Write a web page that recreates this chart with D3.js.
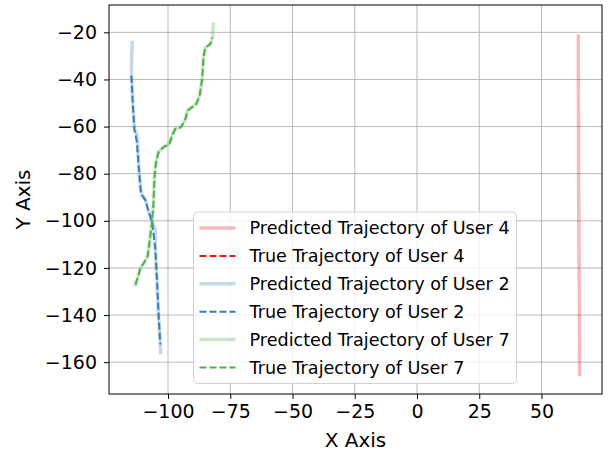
<!DOCTYPE html>
<html>
<head>
<meta charset="utf-8">
<script src="https://cdn.jsdelivr.net/npm/d3@7"></script>
<style>
  body { margin: 0; background: #fff; }
  svg { font-family: "DejaVu Sans", sans-serif; }
  .grid line { stroke: #b0b0b0; stroke-width: 0.9; }
  .axis text { font-size: 19px; fill: #000; font-family: "DejaVu Sans", sans-serif; }
  .axis path, .axis line { stroke: #000; }
</style>
</head>
<body>
<div id="chart"></div>
<script>
// trajectories, [x, y]
var predUser4 = [[64.8,-20.8],[64.8,-40],[64.9,-60],[64.9,-80],[65.0,-100],[65.1,-120],[65.2,-140],[65.3,-166]];
var trueUser4 = [];
var predUser2 = [[-114.3,-23.5],[-114.6,-30],[-114.7,-38],[-114.1,-51],[-113.5,-61],[-112.3,-64],[-112.2,-68],
  [-111.7,-78],[-110.9,-87.5],[-110.4,-89],[-109.1,-91],[-107.8,-96],[-106.4,-100.5],[-105.1,-103.6],
  [-105.1,-112],[-104.4,-126],[-103.8,-140],[-103.1,-152.5],[-102.9,-156.7]];
var trueUser2 = [[-114.7,-38.4],[-114.1,-51.1],[-113.5,-61],[-112.5,-66.6],[-111.7,-77.9],[-110.9,-87.7],
  [-110.5,-89.1],[-109.1,-91.2],[-107.8,-96.2],[-106.4,-100.4],[-105.1,-111.7],[-104.4,-125.7],
  [-103.8,-139.8],[-103.1,-152.5]];
var predUser7 = [[-113.3,-128],[-111.8,-122.9],[-111.1,-120.1],[-109.8,-118],[-108.2,-115.2],[-107.4,-108.9],
  [-106.4,-100.4],[-105.8,-92],[-105.5,-82.1],[-104.8,-75.1],[-103.8,-70.8],[-101.8,-68.7],[-99.4,-67.3],
  [-98.4,-63.8],[-97.1,-61],[-94.8,-60.3],[-93,-56.8],[-92.1,-53.2],[-90.4,-51.8],[-88.6,-50.4],
  [-87.3,-46.9],[-86.3,-39.9],[-85.7,-30],[-85,-26.5],[-83,-25],[-82.1,-22],[-81.7,-15.9]];
var trueUser7 = [[-113.1,-127.1],[-111.8,-122.9],[-111.1,-120.1],[-109.8,-118],[-108.2,-115.2],[-107.4,-108.9],
  [-106.4,-100.4],[-105.8,-92],[-105.5,-82.1],[-104.8,-75.1],[-103.8,-70.8],[-101.8,-68.7],[-99.4,-67.3],
  [-98.4,-63.8],[-97.1,-61],[-94.8,-60.3],[-93,-56.8],[-92.1,-53.2],[-90.4,-51.8],[-88.6,-50.4],
  [-87.3,-46.9],[-86.3,-39.9],[-85.7,-30],[-85,-26.5],[-83,-25],[-82.3,-22.2]];

var xTicks = [-100, -75, -50, -25, 0, 25, 50];
var yTicks = [-160, -140, -120, -100, -80, -60, -40, -20];

var series = [
  {label: "Predicted Trajectory of User 4", data: predUser4, color: "#e41a1c", pred: true},
  {label: "True Trajectory of User 4", data: trueUser4, color: "#e41a1c", pred: false},
  {label: "Predicted Trajectory of User 2", data: predUser2, color: "#377eb8", pred: true},
  {label: "True Trajectory of User 2", data: trueUser2, color: "#377eb8", pred: false},
  {label: "Predicted Trajectory of User 7", data: predUser7, color: "#4daf4a", pred: true},
  {label: "True Trajectory of User 7", data: trueUser7, color: "#4daf4a", pred: false}
];

var W = 613, H = 456;
var margin = {top: 5, right: 11, bottom: 62, left: 109};
var width = W - margin.left - margin.right,
    height = H - margin.top - margin.bottom;

// matplotlib style 5% padding
var all = [].concat(predUser4, trueUser4, predUser2, trueUser2, predUser7, trueUser7);
var xe = d3.extent(all, function(d){ return d[0]; }),
    ye = d3.extent(all, function(d){ return d[1]; });
var xp = (xe[1]-xe[0])*0.05, yp = (ye[1]-ye[0])*0.05;

var x = d3.scaleLinear().domain([xe[0]-xp, xe[1]+xp]).range([0, width]);
var y = d3.scaleLinear().domain([ye[0]-yp, ye[1]+yp]).range([height, 0]);

var svg = d3.select("#chart").append("svg")
    .attr("width", W).attr("height", H);
var g = svg.append("g")
    .attr("transform", "translate(" + margin.left + "," + margin.top + ")");

//grid
var grid = g.append("g").attr("class", "grid");
grid.selectAll(".gx").data(xTicks).enter().append("line")
  .attr("x1", function(d){ return x(d); }).attr("x2", function(d){ return x(d); })
  .attr("y1", 0).attr("y2", height);
grid.selectAll(".gy").data(yTicks).enter().append("line")
  .attr("y1", function(d){ return y(d); }).attr("y2", function(d){ return y(d); })
  .attr("x1", 0).attr("x2", width);

var line = d3.line().x(function(d){ return x(d[0]); }).y(function(d){ return y(d[1]); });

g.append("clipPath").attr("id", "clip")
  .append("rect").attr("width", width).attr("height", height);

var plot = g.append("g").attr("clip-path", "url(#clip)");
series.forEach(function(s){
  if (!s.data.length) return;
  var p = plot.append("path").datum(s.data)
    .attr("d", line)
    .attr("fill", "none")
    .attr("stroke", s.color)
    .attr("stroke-linejoin", "round");
  if (s.pred) {
    p.attr("stroke-width", 3.5).attr("stroke-opacity", 0.3);
  } else {
    p.attr("stroke-width", 2).attr("stroke-dasharray", "7,3");
  }
});

//axes
var xAxis = d3.axisBottom(x).tickValues(xTicks).tickSize(5).tickPadding(6);
var yAxis = d3.axisLeft(y).tickValues(yTicks).tickSize(5).tickPadding(7);

g.append("g").attr("class", "axis").attr("transform", "translate(0," + height + ")")
  .call(xAxis).call(function(a){ a.select(".domain").remove(); });
g.append("g").attr("class", "axis")
  .call(yAxis).call(function(a){ a.select(".domain").remove(); });

g.append("rect")
  .attr("x", 0).attr("y", 0).attr("width", width).attr("height", height)
  .attr("fill", "none").attr("stroke", "#000").attr("stroke-width", 1);

g.append("text")
  .attr("x", width/2).attr("y", height + 53)
  .attr("text-anchor", "middle").style("font-size", "20px")
  .text("X Axis");
g.append("text")
  .attr("transform", "translate(" + (-79) + "," + (height/2) + ") rotate(-90)")
  .attr("text-anchor", "middle").style("font-size", "20px")
  .text("Y Axis");

//legend
var lg = g.append("g").attr("transform", "translate(" + (193.5 - margin.left) + "," + (212 - margin.top) + ")");
var rowH = 27.9;
lg.append("rect")
  .attr("width", 323).attr("height", 171.5)
  .attr("rx", 4).attr("ry", 4)
  .attr("fill", "#fff").attr("fill-opacity", 0.8)
  .attr("stroke", "#d0d0d0").attr("stroke-width", 1);
var rows = lg.selectAll(".lrow").data(series).enter().append("g")
  .attr("class", "lrow")
  .attr("transform", function(d, i){ return "translate(0," + (16 + i*rowH) + ")"; });
rows.append("line")
  .attr("x1", 6).attr("x2", 42).attr("y1", 0).attr("y2", 0)
  .attr("stroke", function(d){ return d.color; })
  .attr("stroke-width", function(d){ return d.pred ? 3.5 : 2; })
  .attr("stroke-opacity", function(d){ return d.pred ? 0.3 : 1; })
  .attr("stroke-dasharray", function(d){ return d.pred ? null : "7,3"; });
rows.append("text")
  .attr("x", 56).attr("y", 0).attr("dy", "0.36em")
  .style("font-size", "17.6px")
  .text(function(d){ return d.label; });
</script>
</body>
</html>
